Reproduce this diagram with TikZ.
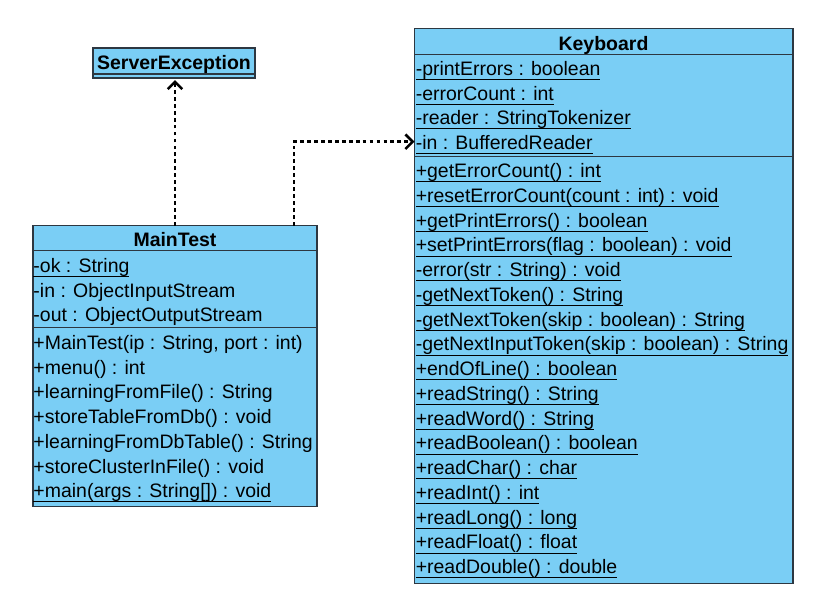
\documentclass[tikz,border=0pt]{standalone}
\usepackage{fontspec}
\setmainfont{Liberation Sans}
\usetikzlibrary{arrows.meta,fit}
\definecolor{umlfill}{RGB}{122,206,245}
\definecolor{umlline}{RGB}{45,55,65}
\newcommand\myul[1]{\setbox0\hbox{#1}\rlap{\usebox0}\rule[-3.4pt]{\wd0}{0.7pt}}
\begin{document}
\begin{tikzpicture}[x=0.75pt,y=-0.75pt,
  font=\fontsize{14.6}{18}\selectfont,
  classbox/.style={draw=umlline,fill=umlfill,line width=1.1pt,inner sep=0pt,outer sep=0pt},
  sepline/.style={draw=umlline,line width=1.1pt},
  row/.style={anchor=base west,inner sep=0pt,outer sep=0pt},
  ctitle/.style={anchor=base,inner sep=0pt,outer sep=0pt,font=\fontsize{14.6}{18}\selectfont\bfseries},
  dep/.style={line width=2pt,dash pattern=on 2.8pt off 2.4pt,
    -{Straight Barb[length=5.5pt,width=11pt,line width=1.9pt]}}]
\useasboundingbox (0,0) rectangle (831,611);
\fill[white] (0,0) rectangle (831,611);

% ServerException
\node[classbox,fit={(93,48) (255,78)}] (se) {};
\draw[sepline] (93,74) -- (255,74);
\node[ctitle] (seT) at (174,69.3) {ServerException};

% MainTest
\node[classbox,fit={(33,225.5) (317,506.7)}] (mt) {};
\draw[sepline] (33,250.5) -- (318,250.5);
\draw[sepline] (33,327.7) -- (317,327.7);
\node[ctitle] (mtT) at (175,246) {MainTest};
\node[row] (mta1) at (33.5,272.3) {\myul{-ok : String}};
\node[row] (mta2) at (33.5,297.05) {-in : ObjectInputStream};
\node[row] (mta3) at (33.5,321.8) {-out : ObjectOutputStream};
\node[row] (mto1) at (33.5,349.3) {+MainTest(ip : String, port : int)};
\node[row] (mto2) at (33.5,374.05) {+menu() : int};
\node[row] (mto3) at (33.5,398.8) {+learningFromFile() : String};
\node[row] (mto4) at (33.5,423.55) {+storeTableFromDb() : void};
\node[row] (mto5) at (33.5,448.3) {+learningFromDbTable() : String};
\node[row] (mto6) at (33.5,473.05) {+storeClusterInFile() : void};
\node[row] (mto7) at (33.5,497.8) {\myul{+main(args : String[]) : void}};

% Keyboard
\node[classbox,fit={(414.5,28.3) (793,583.3)}] (kb) {};
\draw[sepline] (414.5,54.3) -- (793,54.3);
\draw[sepline] (414.5,156.7) -- (793,156.7);
\node[ctitle] (kbT) at (603.5,50) {Keyboard};
\node[row] (kba1) at (415.8,75.3) {\myul{-printErrors : boolean}};
\node[row] (kba2) at (415.8,100.05) {\myul{-errorCount : int}};
\node[row] (kba3) at (415.8,124.8) {\myul{-reader : StringTokenizer}};
\node[row] (kba4) at (415.8,149.55) {\myul{-in : BufferedReader}};
\node[row] (kbo1) at (415.8,177.7) {\myul{+getErrorCount() : int}};
\node[row] (kbo2) at (415.8,202.45) {\myul{+resetErrorCount(count : int) : void}};
\node[row] (kbo3) at (415.8,227.2) {\myul{+getPrintErrors() : boolean}};
\node[row] (kbo4) at (415.8,251.95) {\myul{+setPrintErrors(flag : boolean) : void}};
\node[row] (kbo5) at (415.8,276.7) {\myul{-error(str : String) : void}};
\node[row] (kbo6) at (415.8,301.45) {\myul{-getNextToken() : String}};
\node[row] (kbo7) at (415.8,326.2) {\myul{-getNextToken(skip : boolean) : String}};
\node[row] (kbo8) at (415.8,350.95) {\myul{-getNextInputToken(skip : boolean) : String}};
\node[row] (kbo9) at (415.8,375.7) {\myul{+endOfLine() : boolean}};
\node[row] (kbo10) at (415.8,400.45) {\myul{+readString() : String}};
\node[row] (kbo11) at (415.8,425.2) {\myul{+readWord() : String}};
\node[row] (kbo12) at (415.8,449.95) {\myul{+readBoolean() : boolean}};
\node[row] (kbo13) at (415.8,474.7) {\myul{+readChar() : char}};
\node[row] (kbo14) at (415.8,499.45) {\myul{+readInt() : int}};
\node[row] (kbo15) at (415.8,524.2) {\myul{+readLong() : long}};
\node[row] (kbo16) at (415.8,548.95) {\myul{+readFloat() : float}};
\node[row] (kbo17) at (415.8,573.7) {\myul{+readDouble() : double}};

% dependencies
\draw[dep] (mt.north) -- ([yshift=-1.5pt]mt.north |- se.south);
\coordinate (mtR) at (294,225.5);
\coordinate (kbIn) at (414.5,141.7);
\draw[dep] (mtR) |- (kbIn);
\end{tikzpicture}
\end{document}
